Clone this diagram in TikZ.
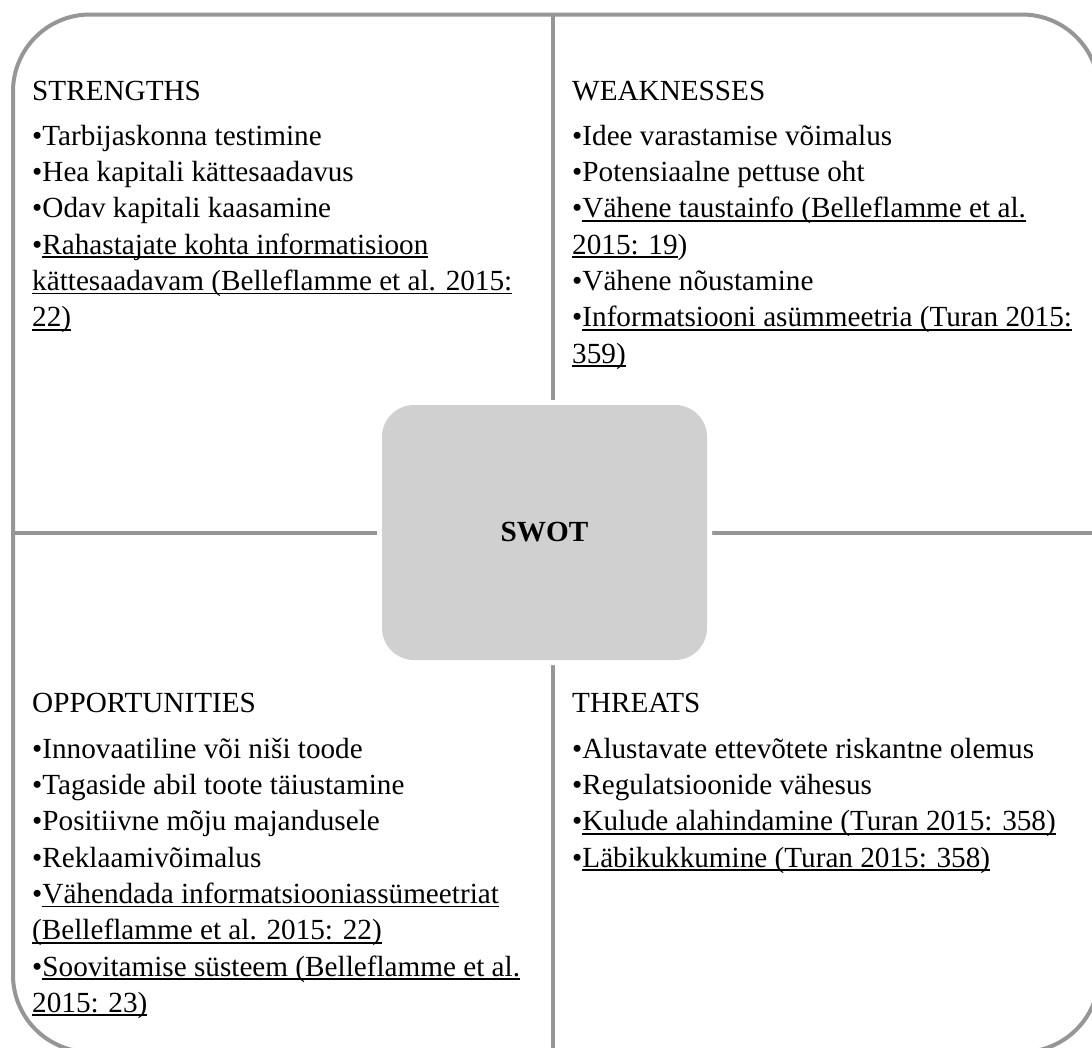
\documentclass[tikz,border=0pt]{standalone}
\usepackage{fontspec}
\setmainfont{Liberation Serif}
\definecolor{frameg}{RGB}{150,150,150}
\definecolor{boxg}{RGB}{208,208,208}
\newsavebox\ulbox
\newcommand\myul[1]{\sbox\ulbox{#1}\rlap{\rule[-4pt]{\wd\ulbox}{1.9pt}}\usebox\ulbox}
\newcommand\firststrut{\rule{0pt}{25pt}}
\begin{document}
\begin{tikzpicture}[x=1pt,y=-1pt,
  frame/.style={draw=frameg, line width=4pt},
  head/.style={anchor=base west, inner sep=0pt, font=\fontsize{29.2}{36.3}\selectfont},
  list/.style={anchor=north west, inner sep=0pt, align=left, font=\fontsize{29.2}{36.3}\selectfont}]
\useasboundingbox (0,0) rectangle (1092,1047);
\clip (0,0) rectangle (1092,1047);
\fill[white] (0,0) rectangle (1092,1047);
% outer frame
\draw[frame, rounded corners=77pt] (13,14.5) rectangle (1099,1052);
% dividers
\coordinate (vt) at (553,14.5);
\coordinate (vb) at (553,1052);
\coordinate (hl) at (13,533);
\coordinate (hr) at (1099,533);
\draw[frame] (vt) -- (vb);
\draw[frame] (hl) -- (hr);
% centre box
\fill[white, rounded corners=37pt] (377,400) rectangle (712,665);
\node[fill=boxg, rounded corners=32pt, minimum width=325pt, minimum height=255pt, inner sep=0pt,
  font=\bfseries\fontsize{29.2}{36.3}\selectfont] (swot) at (544.5,532.5) {SWOT};
% strengths
\node[head] (sh) at (32,100) {STRENGTHS};
\node[list] (sl) at (32,120) {\firststrut•Tarbijaskonna testimine\\
•Hea kapitali kättesaadavus\\
•Odav kapitali kaasamine\\
•\myul{Rahastajate kohta informatisioon}\\
\myul{kättesaadavam (Belleflamme et al. 2015:}\\
\myul{22)}};
% weaknesses
\node[head] (wh) at (572,100) {WEAKNESSES};
\node[list] (wl) at (572,120) {\firststrut•Idee varastamise võimalus\\
•Potensiaalne pettuse oht\\
•\myul{Vähene taustainfo (Belleflamme et al.}\\
\myul{2015: 19})\\
•Vähene nõustamine\\
•\myul{Informatsiooni asümmeetria (Turan 2015:}\\
\myul{359)}};
% opportunities
\node[head] (oh) at (32,712) {OPPORTUNITIES};
\node[list] (ol) at (32,733) {\firststrut•Innovaatiline või niši toode\\
•Tagaside abil toote täiustamine\\
•Positiivne mõju majandusele\\
•Reklaamivõimalus\\
•\myul{Vähendada informatsiooniassümeetriat}\\
\myul{(Belleflamme et al. 2015: 22)}\\
•\myul{Soovitamise süsteem (Belleflamme et al.}\\
\myul{2015: 23)}};
% threats
\node[head] (th) at (572,712) {THREATS};
\node[list] (tl) at (572,733) {\firststrut•Alustavate ettevõtete riskantne olemus\\
•Regulatsioonide vähesus\\
•\myul{Kulude alahindamine (Turan 2015: 358)}\\
•\myul{Läbikukkumine (Turan 2015: 358)}};
\end{tikzpicture}
\end{document}
